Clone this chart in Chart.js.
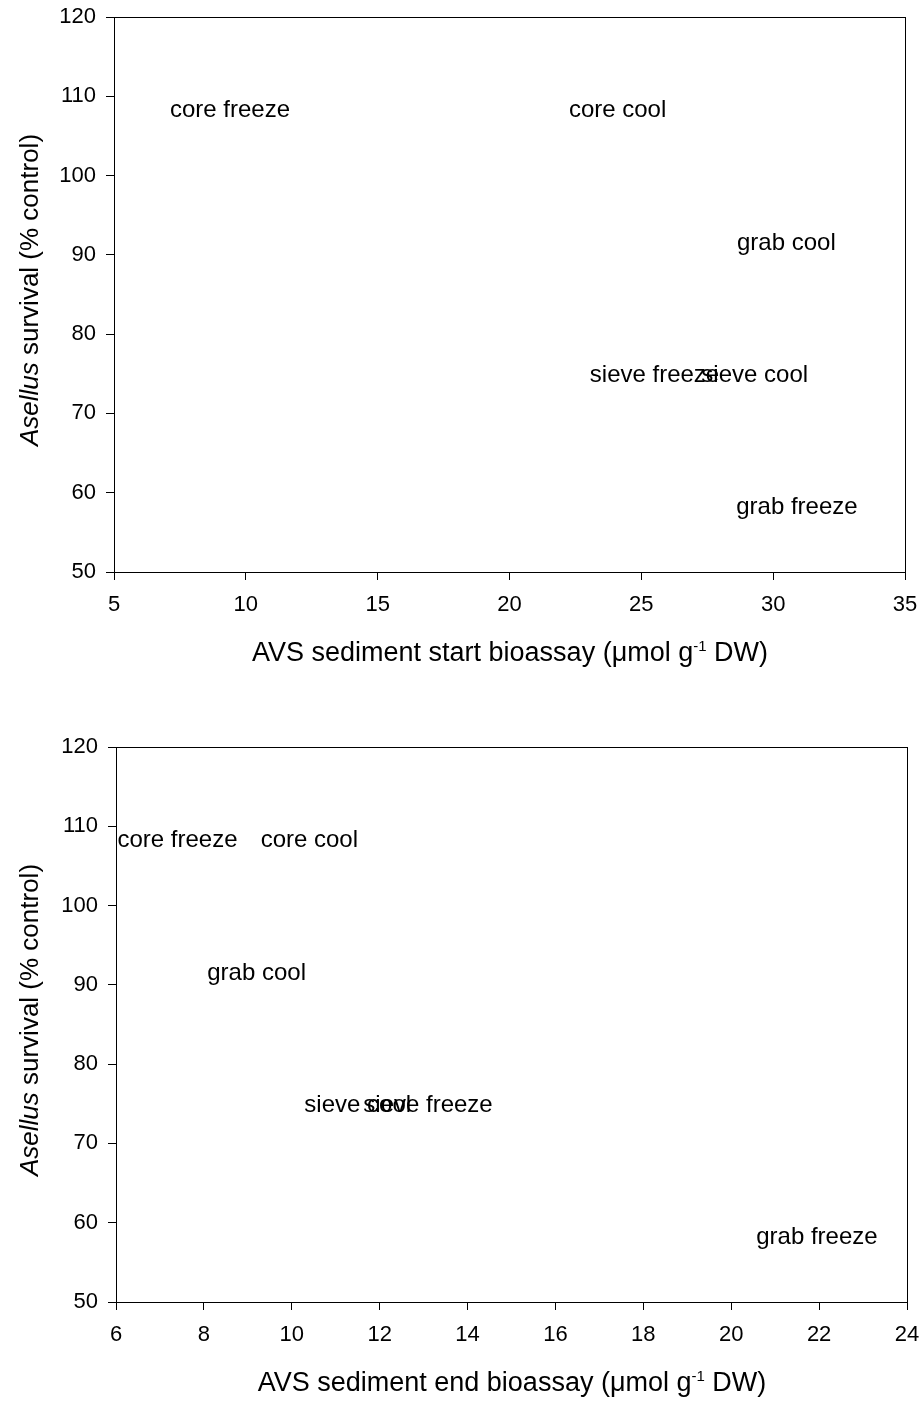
<!DOCTYPE html>
<html>
<head>
<meta charset="utf-8">
<script src="https://cdn.jsdelivr.net/npm/chart.js@4.4.1/dist/chart.umd.min.js"></script>
<style>
    html, body { margin: 0; padding: 0; background: #fff; }
    .wrap { position: absolute; left: 0; width: 922px; }
</style>
</head>
<body>
<div class="wrap" style="top:0;height:730px"><canvas id="chartStart" width="922" height="730"></canvas></div>
<div class="wrap" style="top:730px;height:671px"><canvas id="chartEnd" width="922" height="671"></canvas></div>
<script>
// dati
const treatments = ['core freeze', 'core cool', 'grab cool', 'sieve freeze', 'sieve cool', 'grab freeze'];
const survival = [108.2, 108.2, 91.5, 74.8, 74.8, 58.2];
const avsStart = [9.4, 24.1, 30.5, 25.5, 29.3, 30.9];
const avsEnd = [7.4, 10.4, 9.2, 13.1, 11.5, 21.95];

const survivalTicks = [50, 60, 70, 80, 90, 100, 110, 120];
const startTicks = [5, 10, 15, 20, 25, 30, 35];
const endTicks = [6, 8, 10, 12, 14, 16, 18, 20, 22, 24];

const FONT = '"Liberation Sans", Arial, sans-serif';

// etichette di testo al posto dei punti
const pointLabels = {
    id: 'pointLabels',
    afterDatasetsDraw(chart) {
        const ctx = chart.ctx;
        const meta = chart.getDatasetMeta(0);
        ctx.save();
        ctx.font = '24px ' + FONT;
        ctx.fillStyle = '#000';
        ctx.textAlign = 'center';
        ctx.textBaseline = 'middle';
        meta.data.forEach((pt, i) => ctx.fillText(treatments[i], pt.x, pt.y));
        ctx.restore();
    }
};

// riquadro completo attorno all'area del grafico
const frameBox = {
    id: 'frameBox',
    afterDraw(chart) {
        const a = chart.chartArea;
        const ctx = chart.ctx;
        ctx.save();
        ctx.strokeStyle = '#000';
        ctx.lineWidth = 1;
        ctx.strokeRect(Math.round(a.left) + 0.5, Math.round(a.top) + 0.5,
            Math.round(a.right - a.left), Math.round(a.bottom - a.top));
        ctx.restore();
    }
};

// titoli degli assi (corsivo e apice)
const axisTitles = {
    id: 'axisTitles',
    afterDraw(chart, args, opts) {
        const ctx = chart.ctx;
        ctx.save();
        ctx.fillStyle = '#000';
        ctx.textBaseline = 'alphabetic';
        ctx.textAlign = 'left';

        // asse x
        const parts = [
            { t: opts.xText, f: '27px ' + FONT, dy: 0 },
            { t: '-1', f: '15px ' + FONT, dy: -10 },
            { t: ' DW)', f: '27px ' + FONT, dy: 0 }
        ];
        let total = 0;
        parts.forEach(p => { ctx.font = p.f; p.w = ctx.measureText(p.t).width; total += p.w; });
        let x = opts.xCenter - total / 2;
        parts.forEach(p => { ctx.font = p.f; ctx.fillText(p.t, x, opts.xBaseline + p.dy); x += p.w; });

        // asse y
        ctx.translate(opts.yBaseline, opts.yCenter);
        ctx.rotate(-Math.PI / 2);
        const yParts = [
            { t: 'Asellus', f: 'italic 26px ' + FONT },
            { t: ' survival (% control)', f: '26px ' + FONT }
        ];
        total = 0;
        yParts.forEach(p => { ctx.font = p.f; p.w = ctx.measureText(p.t).width; total += p.w; });
        x = -total / 2;
        yParts.forEach(p => { ctx.font = p.f; ctx.fillText(p.t, x, 0); x += p.w; });
        ctx.restore();
    }
};

function makeChart(canvasId, xValues, xTicks, cfg) {
    const ctx = document.getElementById(canvasId);
    const points = xValues.map((v, i) => ({ x: v, y: survival[i] }));
    return new Chart(ctx, {
        type: 'scatter',
        data: {
            datasets: [{ data: points, pointRadius: 0, pointHoverRadius: 0 }]
        },
        options: {
            responsive: false,
            animation: false,
            events: [],
            layout: { padding: { top: 17, right: cfg.right, left: 0, bottom: 0 } },
            plugins: {
                legend: { display: false },
                tooltip: { enabled: false },
                axisTitles: cfg.titles
            },
            scales: {
                x: {
                    type: 'linear',
                    min: xTicks[0],
                    max: xTicks[xTicks.length - 1],
                    afterBuildTicks: s => { s.ticks = xTicks.map(v => ({ value: v })); },
                    afterFit: s => { s.height = cfg.xHeight; s.paddingLeft = 0; s.paddingRight = 0; },
                    grid: { drawOnChartArea: false, drawTicks: true, tickLength: 8, tickColor: '#000' },
                    border: { display: true, color: '#000', width: 1 },
                    ticks: { color: '#000', padding: 12, font: { size: 22, family: FONT }, maxRotation: 0 }
                },
                y: {
                    type: 'linear',
                    min: survivalTicks[0],
                    max: survivalTicks[survivalTicks.length - 1],
                    afterBuildTicks: s => { s.ticks = survivalTicks.map(v => ({ value: v })); },
                    afterFit: s => { s.width = cfg.yWidth; s.paddingTop = 0; s.paddingBottom = 0; },
                    grid: { drawOnChartArea: false, drawTicks: true, tickLength: 8, tickColor: '#000' },
                    border: { display: true, color: '#000', width: 1 },
                    ticks: { color: '#000', padding: 10, font: { size: 22, family: FONT } }
                }
            }
        },
        plugins: [pointLabels, frameBox, axisTitles]
    });
}

makeChart('chartStart', avsStart, startTicks, {
    right: 17, yWidth: 114, xHeight: 158,
    titles: { xText: 'AVS sediment start bioassay (\u03bcmol g', xCenter: 510, xBaseline: 661, yBaseline: 38, yCenter: 290 }
});

makeChart('chartEnd', avsEnd, endTicks, {
    right: 15, yWidth: 116, xHeight: 99,
    titles: { xText: 'AVS sediment end bioassay (\u03bcmol g', xCenter: 512, xBaseline: 661, yBaseline: 38, yCenter: 290 }
});
</script>
</body>
</html>
